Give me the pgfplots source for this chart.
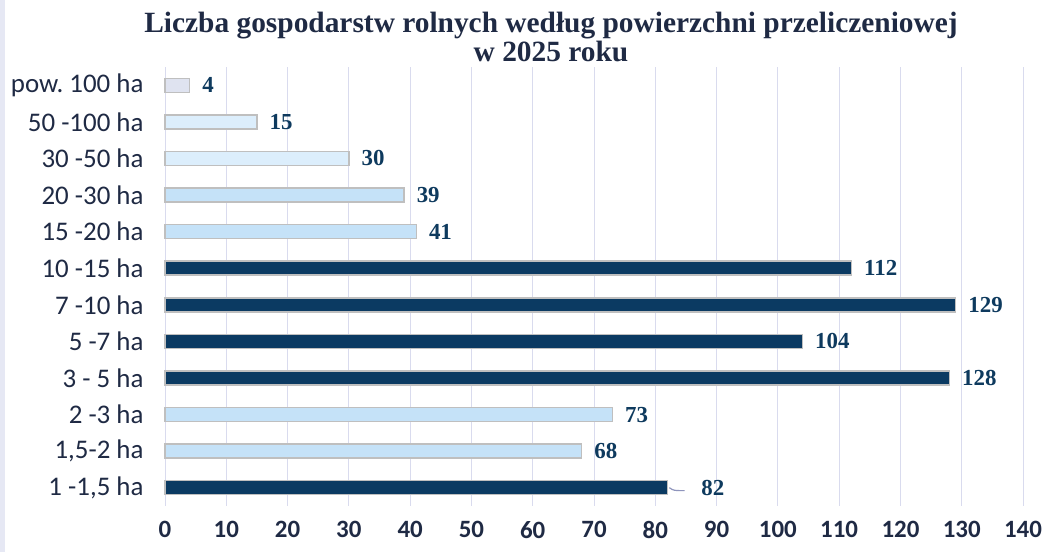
\documentclass[border=0pt]{standalone}
\usepackage{pgfplots}
\pgfplotsset{compat=1.18}
\usepackage{fontspec}
\setmainfont{Liberation Serif}
\newfontfamily\carlito{Carlito}
\frenchspacing

\definecolor{barDark}{HTML}{0B3A62}
\definecolor{barLight}{HTML}{C5E2F8}
\definecolor{barPale}{HTML}{DCEEFC}
\definecolor{barGrey}{HTML}{DFE3F0}
\definecolor{barEdge}{HTML}{BFBFBF}
\definecolor{gridCol}{HTML}{D9DBEE}
\definecolor{textCol}{HTML}{1F2A44}
\definecolor{valCol}{HTML}{0E3A5E}
\definecolor{frameCol}{HTML}{E6E8F4}
\definecolor{leaderCol}{HTML}{8E94BC}

% category positions: 0 = "1 -1,5 ha" (bottom) ... 11 = "pow. 100 ha" (top)
\pgfplotstableread{
y  v
3  128
4  104
5  129
6  112
}\darkbars
\pgfplotstableread{
y  v
0  82
}\darkbarleader
\pgfplotstableread{
y  v
1  68
2  73
7  41
8  39
}\lightbars
\pgfplotstableread{
y  v
9  30
10 15
}\palebars
\pgfplotstableread{
y  v
11 4
}\greybars

\begin{document}
\begin{tikzpicture}
\fill[white] (0,0) rectangle (1047bp,552bp);
\fill[frameCol] (0,0) rectangle (5bp,552bp);
\node[font=\fontsize{29.5}{30}\selectfont\bfseries, text=textCol, align=center]
  at (551bp,515bp) {Liczba gospodarstw rolnych według powierzchni przeliczeniowej\\ w 2025 roku};
\begin{axis}[
  at={(165bp,46bp)}, anchor=south west,
  scale only axis, width=858bp, height=439bp,
  xmin=0, xmax=140, ymin=-0.5, ymax=11.5,
  xtick={0,10,...,140},
  ytick={0,...,11},
  yticklabels={1 -1{,}5 ha,{1,5-2 ha},2 -3 ha,3 - 5 ha,5 -7 ha,7 -10 ha,10 -15 ha,15 -20 ha,20 -30 ha,30 -50 ha,50 -100 ha,pow. 100 ha},
  axis line style={draw=none},
  major tick length=0pt,
  xmajorgrids, grid style={gridCol, line width=1bp},
  /pgf/number format/assume math mode=true,
  xticklabel style={font=\carlito\bfseries\fontsize{25}{27}\selectfont, text=textCol, yshift=-12bp},
  yticklabel style={font=\carlito\fontsize{27}{29}\selectfont, text=textCol, xshift=-18bp},
  xbar, bar width=14bp, bar shift=0pt,
  nodes near coords,
  nodes near coords style={font=\bfseries\fontsize{23}{26}\selectfont, text=valCol, anchor=west, inner sep=0pt, xshift=12bp},
  clip=false,
]
\addplot[fill=barDark, draw=barEdge, line width=1.5bp] table[x=v, y=y] {\darkbars};
\addplot[fill=barDark, draw=barEdge, line width=1.5bp,
  nodes near coords style={xshift=21bp}] table[x=v, y=y] {\darkbarleader};
\addplot[fill=barLight, draw=barEdge, line width=1.5bp] table[x=v, y=y] {\lightbars};
\addplot[fill=barPale, draw=barEdge, line width=1.5bp] table[x=v, y=y] {\palebars};
\addplot[fill=barGrey, draw=barEdge, line width=1.5bp] table[x=v, y=y] {\greybars};
\draw[leaderCol, line width=1.2bp] (axis cs:82.3,0) .. controls (axis cs:83.0,-0.08) .. (axis cs:84.8,-0.08);
\end{axis}
\end{tikzpicture}
\end{document}
